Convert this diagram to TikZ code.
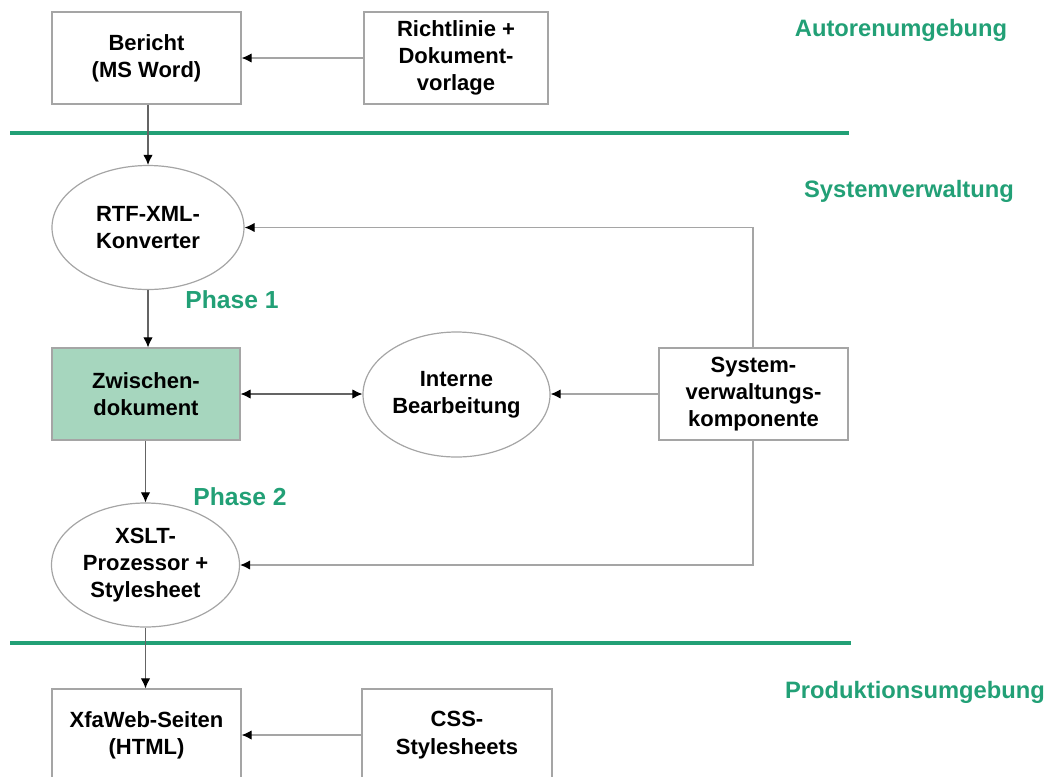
\documentclass[tikz,border=0pt]{standalone}
\usepackage{fontspec}
\setmainfont{Liberation Sans}
\usetikzlibrary{arrows.meta,shapes.geometric}
\definecolor{envgreen}{RGB}{34,160,118}
\definecolor{fillgreen}{RGB}{166,214,190}
\definecolor{boxline}{RGB}{165,165,165}
\definecolor{darkline}{RGB}{100,100,100}
\definecolor{lightline}{RGB}{165,165,165}
\tikzset{
  x=0.75pt, y=-0.75pt,
  box/.style={draw=boxline, line width=0.9pt, rectangle, inner sep=0pt,
    align=center, font=\fontsize{16.5}{20.5}\selectfont\bfseries,
    minimum width=#1*0.75pt, minimum height=92*0.75pt},
  oval/.style={draw=boxline, line width=0.9pt, ellipse, inner sep=0pt,
    align=center, font=\fontsize{16.5}{20.5}\selectfont\bfseries,
    minimum width=#1*0.75pt, minimum height=124*0.75pt},
  envlabel/.style={text=envgreen, font=\fontsize{17.8}{20}\selectfont\bfseries, inner sep=0pt},
  sepline/.style={draw=envgreen, line width=3pt},
  arrowtip/.tip={Latex[length=7.5pt,width=7pt,color=black]},
  tip/.style={-arrowtip},
  dconn/.style={draw=darkline, line width=0.8pt, tip},
  lconn/.style={draw=lightline, line width=0.9pt, tip},
}
\begin{document}
\begin{tikzpicture}
\useasboundingbox (0,0) rectangle (1053,776);
\clip (0,0) rectangle (1053,776);

% layer separators
\draw[sepline] (10,133) -- (849,133);
\draw[sepline] (10,643) -- (851,643);

% layer titles
\node[envlabel] (lauthor) at (901,30) {Autorenumgebung};
\node[envlabel] (lsystem) at (909,191) {Systemverwaltung};
\node[envlabel] (lprod) at (915,692) {Produktionsumgebung};
\node[envlabel, font=\fontsize{18.5}{20}\selectfont\bfseries] (phase1) at (232,300) {Phase 1};
\node[envlabel, font=\fontsize{18.5}{20}\selectfont\bfseries] (phase2) at (240,497) {Phase 2};

% components
\node[box=189] (bericht) at (146.5,58) {Bericht\\(MS Word)};
\node[box=184] (richt) at (456,58) {Richtlinie +\\Dokument-\\vorlage};
\node[oval=192] (rtf) at (148,227.5) {RTF-XML-\\Konverter};
\node[box=188, fill=fillgreen] (zw) at (146,394) {Zwischen-\\dokument};
\node[oval=187, minimum height=125*0.75pt] (interne) at (456.5,394.5) {Interne\\Bearbeitung};
\node[box=189] (sys) at (753.5,394) {System-\\verwaltungs-\\komponente};
\node[oval=188] (xslt) at (145.5,565) {XSLT-\\Prozessor +\\Stylesheet};
\node[box=189] (xfa) at (146.5,735) {XfaWeb-Seiten\\(HTML)};
\node[box=190] (css) at (457,735) {CSS-\\Stylesheets};

% corner points of the feedback lines
\coordinate (ctop) at (753,227.5);
\coordinate (cbot) at (753,565);

% connectors
\draw[lconn] (richt.west) -- (bericht.east);
\draw[dconn] (bericht.south -| rtf.north) -- (rtf.north);
\draw[dconn] (rtf.south) -- (zw.north -| rtf.south);
\draw[dconn, arrowtip-arrowtip] (zw.east) -- (zw.east -| interne.west);
\draw[lconn] (sys.west) -- (sys.west -| interne.east);
\draw[lconn] (sys.north -| ctop) -- (ctop) -- (rtf.east);
\draw[lconn] (sys.south -| cbot) -- (cbot) -- (xslt.east);
\draw[dconn] (zw.south -| xslt.north) -- (xslt.north);
\draw[dconn] (xslt.south) -- (xfa.north -| xslt.south);
\draw[lconn] (css.west) -- (xfa.east);
\end{tikzpicture}
\end{document}
